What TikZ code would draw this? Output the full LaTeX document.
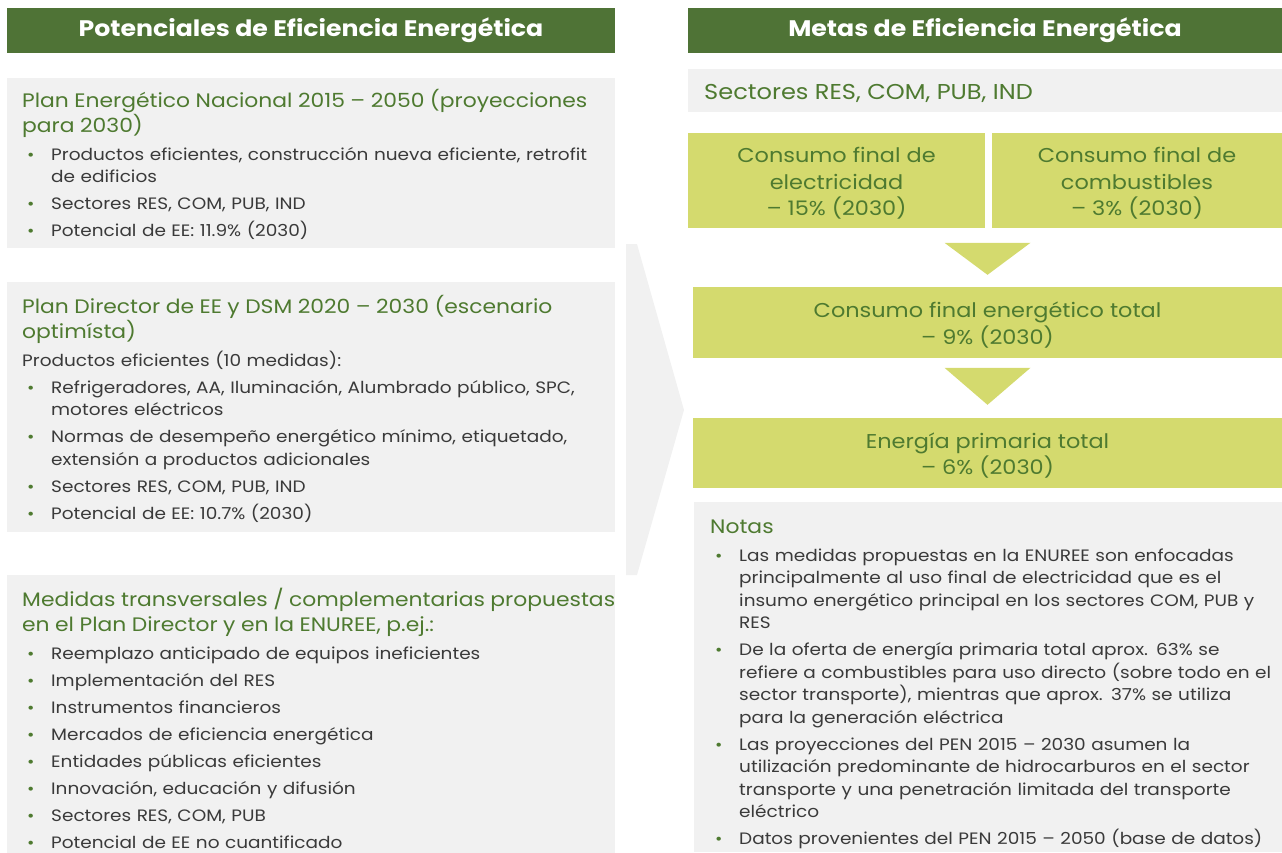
\documentclass[tikz,border=0pt]{standalone}
\usepackage{fontspec}
\setmainfont{Poppins}[FakeStretch=1.12]
\definecolor{hdrgreen}{HTML}{4F7336}
\definecolor{goalgreen}{HTML}{D4DA6E}
\definecolor{boxgray}{HTML}{F1F1F1}
\definecolor{titlegreen}{HTML}{4E7A30}
\definecolor{bodygray}{HTML}{3A3A3A}
\newcommand{\boxhead}[1]{{\color{titlegreen}\fontsize{19.5}{25}\selectfont\rule{0pt}{22pt}#1\par}\vspace{1pt}}
\newcommand{\bitem}[1]{\par\vspace{4.5pt}\hangindent=29pt\hangafter=1\noindent\makebox[29pt][l]{\hspace{5pt}\textcolor{titlegreen}{\fontsize{16}{16}\selectfont•}}{\let\\\newline #1}}
\newcommand{\gstrut}{\rule{0pt}{21pt}}
\tikzset{
  hdr/.style={fill=hdrgreen, text=white, font=\bfseries\fontsize{22.5}{26}\selectfont, minimum height=45pt, inner sep=0pt},
  panel/.style={fill=boxgray, anchor=north west, inner sep=0pt},
  goal/.style={fill=goalgreen, text=titlegreen, align=center, inner sep=0pt, font=\fontsize{20}{26.5}\selectfont},
  bodytext/.style={anchor=north west, inner sep=0pt, text width=#1, align=left, text=bodygray, font=\fontsize{16.5}{22.5}\selectfont},
}
\begin{document}
\begin{tikzpicture}[x=1pt, y=-1pt]
\useasboundingbox (0,0) rectangle (1282,852);

\node[hdr, minimum width=608pt] (hdrpot) at (311,30.5) {Potenciales de Eficiencia Energética};
\node[hdr, minimum width=594pt] (hdrmet) at (985,30.5) {Metas de Eficiencia Energética};

\node[panel, minimum width=608pt, minimum height=170pt] (pen) at (7,78) {};
\node[panel, minimum width=608pt, minimum height=250pt] (pdir) at (7,282) {};
\node[panel, minimum width=608pt, minimum height=278pt] (trans) at (7,575) {};

\fill[boxgray] (626,244) -- (637,244) -- (684,410) -- (637,575) -- (626,575) -- cycle;

\node[bodytext=640pt] (pentxt) at (22,85) {%
\boxhead{Plan Energético Nacional 2015 – 2050 (proyecciones\\para 2030)}%
\bitem{Productos eficientes, construcción nueva eficiente, retrofit\\de edificios}
\bitem{Sectores RES, COM, PUB, IND}
\bitem{Potencial de EE: 11.9\% (2030)}};

\node[bodytext=640pt] (pdirtxt) at (22,291) {%
\boxhead{Plan Director de EE y DSM 2020 – 2030 (escenario\\optimísta)}%
\vspace{4.5pt}\noindent Productos eficientes (10 medidas):
\bitem{Refrigeradores, AA, Iluminación, Alumbrado público, SPC,\\motores eléctricos}
\bitem{Normas de desempeño energético mínimo, etiquetado,\\extensión a productos adicionales}
\bitem{Sectores RES, COM, PUB, IND}
\bitem{Potencial de EE: 10.7\% (2030)}};

\node[bodytext=640pt] (transtxt) at (22,584) {%
\boxhead{Medidas transversales / complementarias propuestas\\en el Plan Director y en la ENUREE, p.ej.:}%
\bitem{Reemplazo anticipado de equipos ineficientes}
\bitem{Implementación del RES}
\bitem{Instrumentos financieros}
\bitem{Mercados de eficiencia energética}
\bitem{Entidades públicas eficientes}
\bitem{Innovación, educación y difusión}
\bitem{Sectores RES, COM, PUB}
\bitem{Potencial de EE no cuantificado}};

\node[panel, minimum width=594pt, minimum height=43pt] (sect) at (688,69) {};
\node[anchor=base west, inner sep=0pt, text=titlegreen, font=\fontsize{21.5}{24}\selectfont] (secttxt) at (704,99) {Sectores RES, COM, PUB, IND};

\node[goal, minimum width=297pt, minimum height=95pt] (elec) at (836.5,180.5) {\gstrut Consumo final de\\electricidad\\– 15\% (2030)};
\node[goal, minimum width=290pt, minimum height=95pt] (comb) at (1137,180.5) {\gstrut Consumo final de\\combustibles\\– 3\% (2030)};
\node[goal, minimum width=589pt, minimum height=71pt] (total) at (987.5,322.5) {\gstrut Consumo final energético total\\– 9\% (2030)};
\node[goal, minimum width=589pt, minimum height=70pt] (prim) at (987.5,453) {\gstrut Energía primaria total\\– 6\% (2030)};

\fill[goalgreen] ([xshift=-43pt,yshift=44pt]total.north) -- ([xshift=43pt,yshift=44pt]total.north) -- ([yshift=12pt]total.north) -- cycle;
\fill[goalgreen] ([xshift=-43pt,yshift=50pt]prim.north) -- ([xshift=43pt,yshift=50pt]prim.north) -- ([yshift=13pt]prim.north) -- cycle;

\node[panel, minimum width=588pt, minimum height=350pt] (notas) at (694,502) {};
\node[bodytext=620pt] (notastxt) at (710,511) {%
\boxhead{Notas}%
\bitem{Las medidas propuestas en la ENUREE son enfocadas\\principalmente al uso final de electricidad que es el\\insumo energético principal en los sectores COM, PUB y\\RES}
\bitem{De la oferta de energía primaria total aprox. 63\% se\\refiere a combustibles para uso directo (sobre todo en el\\sector transporte), mientras que aprox. 37\% se utiliza\\para la generación eléctrica}
\bitem{Las proyecciones del PEN 2015 – 2030 asumen la\\utilización predominante de hidrocarburos en el sector\\transporte y una penetración limitada del transporte\\eléctrico}
\bitem{Datos provenientes del PEN 2015 – 2050 (base de datos)}};
\end{tikzpicture}
\end{document}
